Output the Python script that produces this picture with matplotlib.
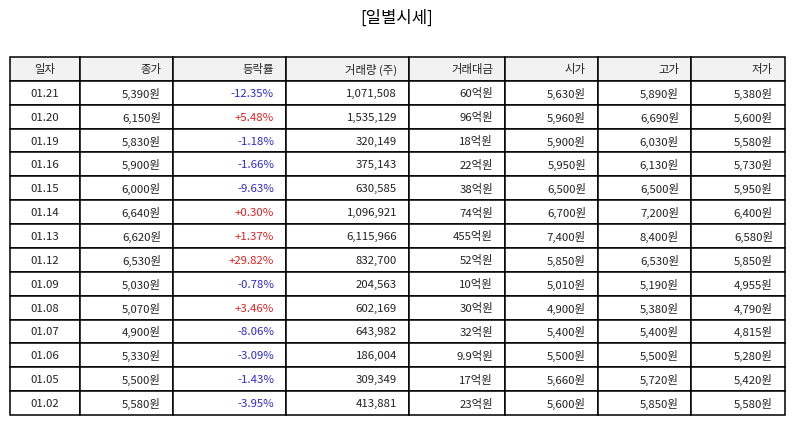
import matplotlib
matplotlib.use("Agg")
import matplotlib.pyplot as plt

plt.rcParams['font.family'] = ['Noto Sans CJK KR', 'DejaVu Sans']

# 표 데이터
columns = ['일자', '종가', '등락률', '거래량 (주)', '거래대금', '시가', '고가', '저가']
dates = ['01.21', '01.20', '01.19', '01.16', '01.15', '01.14', '01.13',
         '01.12', '01.09', '01.08', '01.07', '01.06', '01.05', '01.02']
close = ['5,390원', '6,150원', '5,830원', '5,900원', '6,000원', '6,640원', '6,620원',
         '6,530원', '5,030원', '5,070원', '4,900원', '5,330원', '5,500원', '5,580원']
change = ['-12.35%', '+5.48%', '-1.18%', '-1.66%', '-9.63%', '+0.30%', '+1.37%',
          '+29.82%', '-0.78%', '+3.46%', '-8.06%', '-3.09%', '-1.43%', '-3.95%']
volume = ['1,071,508', '1,535,129', '320,149', '375,143', '630,585', '1,096,921', '6,115,966',
          '832,700', '204,563', '602,169', '643,982', '186,004', '309,349', '413,881']
amount = ['60억원', '96억원', '18억원', '22억원', '38억원', '74억원', '455억원',
          '52억원', '10억원', '30억원', '32억원', '9.9억원', '17억원', '23억원']
open_p = ['5,630원', '5,960원', '5,900원', '5,950원', '6,500원', '6,700원', '7,400원',
          '5,850원', '5,010원', '4,900원', '5,400원', '5,500원', '5,660원', '5,600원']
high = ['5,890원', '6,690원', '6,030원', '6,130원', '6,500원', '7,200원', '8,400원',
        '6,530원', '5,190원', '5,380원', '5,400원', '5,500원', '5,720원', '5,850원']
low = ['5,380원', '5,600원', '5,580원', '5,730원', '5,950원', '6,400원', '6,580원',
       '5,850원', '4,955원', '4,790원', '4,815원', '5,280원', '5,420원', '5,580원']

rows = [list(r) for r in zip(dates, close, change, volume, amount, open_p, high, low)]
col_widths = [70, 93, 113, 123, 96, 93, 93, 94]
total_w = sum(col_widths)

W, H = 794, 425
fig = plt.figure(figsize=(W / 100, H / 100), dpi=100)
ax = fig.add_axes([0, 0, 1, 1])
ax.axis('off')

fig.text(0.5, 1 - 18 / H, '[일별시세]', ha='center', va='center', fontsize=12)

tbl = ax.table(cellText=rows, colLabels=columns,
               colWidths=[w / total_w for w in col_widths],
               bbox=[10 / W, 10 / H, 775 / W, 358 / H])
tbl.auto_set_font_size(False)
tbl.set_fontsize(8.2)

for (r, c), cell in tbl.get_celld().items():
    cell.set_edgecolor('black')
    cell.set_linewidth(1.1)
    # 오른쪽 여백 약 11~13px
    cell.PAD = 12 / col_widths[c]
    txt = cell.get_text()
    txt.set_ha('center' if c == 0 else 'right')
    txt.set_va('center_baseline')
    cell._loc = 'center' if c == 0 else 'right'
    txt.set_color('#222222')
    if r == 0:
        cell.set_facecolor('#f2f2f2')
    elif c == 2:
        val = rows[r - 1][2]
        txt.set_color('#e02020' if val.startswith('+') else '#2a2ad0')

fig.savefig('out.png', dpi=100)
